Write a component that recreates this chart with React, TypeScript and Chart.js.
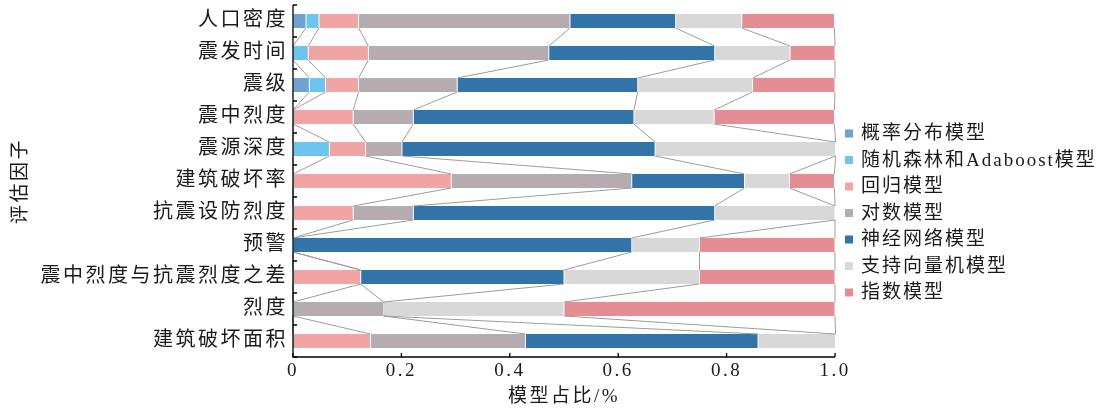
import React, { useEffect, useRef } from 'react';
import { Chart, registerables } from 'chart.js';

Chart.register(...registerables);

// ---- data ----
const categories = [
  '人口密度',
  '震发时间',
  '震级',
  '震中烈度',
  '震源深度',
  '建筑破坏率',
  '抗震设防烈度',
  '预警',
  '震中烈度与抗震烈度之差',
  '烈度',
  '建筑破坏面积',
];

const seriesNames = [
  '概率分布模型',
  '随机森林和Adaboost模型',
  '回归模型',
  '对数模型',
  '神经网络模型',
  '支持向量机模型',
  '指数模型',
];

const probabilityModel = [0.024, 0, 0.030, 0, 0, 0, 0, 0, 0, 0, 0];
const randomForestModel = [0.024, 0.028, 0.030, 0, 0.067, 0, 0, 0, 0, 0, 0];
const regressionModel = [0.073, 0.111, 0.061, 0.111, 0.067, 0.292, 0.111, 0, 0.125, 0, 0.143];
const logModel = [0.390, 0.333, 0.182, 0.111, 0.067, 0.333, 0.111, 0, 0, 0.167, 0.286];
const neuralNetModel = [0.195, 0.306, 0.333, 0.407, 0.467, 0.208, 0.556, 0.625, 0.375, 0, 0.429];
const svmModel = [0.122, 0.139, 0.212, 0.148, 0.333, 0.083, 0.222, 0.125, 0.250, 0.333, 0.143];
const exponentialModel = [0.171, 0.083, 0.152, 0.222, 0, 0.083, 0, 0.250, 0.250, 0.500, 0];

const seriesValues = [
  probabilityModel,
  randomForestModel,
  regressionModel,
  logModel,
  neuralNetModel,
  svmModel,
  exponentialModel,
];

const xTickLabels = ['0', '0.2', '0.4', '0.6', '0.8', '1.0'];
const yTitle = '评估因子';
const xTitle = '模型占比/%';

// ---- styles ----
const seriesColors = ['#6fa2d0', '#6cc5ee', '#f0a5a5', '#b5acb1', '#3274aa', '#d8d8d8', '#e48e93'];
const FONT_FAMILY = '"Liberation Serif", "Noto Sans CJK SC", serif';
const TEXT_COLOR = '#1a1a1a';

const letterSpacingPlugin = {
  id: 'letterSpacing',
  beforeDraw(chart: any) {
    try {
      chart.ctx.letterSpacing = '2.5px';
    } catch (e) {}
  },
};

const connectorPlugin = {
  id: 'connectors',
  afterDatasetsDraw(chart: any) {
    const ctx = chart.ctx;
    ctx.save();
    ctx.strokeStyle = '#9c9c9c';
    ctx.lineWidth = 1;
    chart.data.datasets.forEach((_ds: any, k: number) => {
      const meta = chart.getDatasetMeta(k);
      for (let i = 0; i < meta.data.length - 1; i++) {
        const a = meta.data[i].getProps(['x', 'y', 'height'], true);
        const b = meta.data[i + 1].getProps(['x', 'y', 'height'], true);
        ctx.beginPath();
        ctx.moveTo(a.x, a.y + a.height / 2);
        ctx.lineTo(b.x, b.y - b.height / 2);
        ctx.stroke();
      }
    });
    ctx.restore();
  },
};

const axesPlugin = {
  id: 'axesFrame',
  afterDraw(chart: any) {
    const ctx = chart.ctx;
    const { left, right, top, bottom } = chart.chartArea;
    const xScale = chart.scales.x;
    const tick = 4;
    ctx.save();
    ctx.strokeStyle = '#000';
    ctx.lineWidth = 1.3;
    ctx.beginPath();
    ctx.moveTo(left, top);
    ctx.lineTo(left, bottom);
    ctx.lineTo(right, bottom);
    ctx.stroke();
    // y ticks at category boundaries (inward)
    const n = categories.length;
    const step = (bottom - top) / n;
    ctx.beginPath();
    for (let i = 0; i <= n; i++) {
      const y = top + i * step;
      ctx.moveTo(left, y);
      ctx.lineTo(left + tick, y);
    }
    // x ticks (inward)
    xScale.ticks.forEach((t: any) => {
      const x = xScale.getPixelForValue(t.value);
      ctx.moveTo(x, bottom);
      ctx.lineTo(x, bottom - tick);
    });
    ctx.stroke();
    ctx.restore();
  },
};

const legendPlugin = {
  id: 'customLegend',
  afterDraw(chart: any) {
    const ctx = chart.ctx;
    ctx.save();
    try {
      ctx.letterSpacing = '2px';
    } catch (e) {}
    ctx.font = `19px ${FONT_FAMILY}`;
    ctx.textBaseline = 'middle';
    ctx.textAlign = 'left';
    const x0 = 845;
    const y0 = 133.5;
    const gap = 26.5;
    chart.data.datasets.forEach((ds: any, k: number) => {
      const y = y0 + k * gap;
      ctx.fillStyle = ds.backgroundColor;
      ctx.fillRect(x0, y - 4, 8, 8);
      ctx.fillStyle = TEXT_COLOR;
      ctx.fillText(ds.label, x0 + 16, y + 1);
    });
    ctx.restore();
  },
};

export default function App() {
  const canvasRef = useRef<HTMLCanvasElement | null>(null);

  useEffect(() => {
    if (!canvasRef.current) return;
    const chart = new Chart(canvasRef.current, {
      type: 'bar',
      data: {
        labels: categories,
        datasets: seriesNames.map((name, k) => ({
          label: name,
          data: seriesValues[k],
          backgroundColor: seriesColors[k],
          borderColor: '#ffffff',
          borderWidth: { left: 0.8, right: 0.8, top: 0, bottom: 0 },
          borderSkipped: false,
          barThickness: 14,
        })),
      },
      options: {
        indexAxis: 'y',
        responsive: false,
        devicePixelRatio: 1,
        animation: false,
        layout: { padding: { top: 5, right: 270, bottom: 0, left: 0 } },
        plugins: {
          legend: { display: false },
          tooltip: { enabled: false },
        },
        scales: {
          x: {
            type: 'linear',
            stacked: true,
            min: 0,
            max: 1,
            grid: { display: false, drawTicks: false },
            border: { display: false },
            ticks: {
              stepSize: 0.2,
              padding: 3,
              color: TEXT_COLOR,
              font: { family: FONT_FAMILY, size: 19, lineHeight: 1.2 },
              maxRotation: 0,
              autoSkip: false,
              callback: (_v: any, i: number) => xTickLabels[i],
            },
            title: {
              display: true,
              text: xTitle,
              color: TEXT_COLOR,
              font: { family: FONT_FAMILY, size: 19, lineHeight: 1.2 },
              padding: { top: 0, bottom: 10 },
            },
            afterFit: (scale: any) => {
              scale.height = 61;
              scale.paddingLeft = 0;
              scale.paddingRight = 0;
            },
          },
          y: {
            type: 'category',
            stacked: true,
            grid: { display: false, drawTicks: false },
            border: { display: false },
            ticks: {
              padding: 5,
              color: TEXT_COLOR,
              font: { family: FONT_FAMILY, size: 20, lineHeight: 1.2 },
              autoSkip: false,
            },
            title: {
              display: true,
              text: yTitle,
              color: TEXT_COLOR,
              font: { family: FONT_FAMILY, size: 19, lineHeight: 1.2 },
              padding: { top: 10, bottom: 0 },
            },
            afterFit: (scale: any) => {
              scale.width = 293;
              scale.paddingTop = 0;
              scale.paddingBottom = 0;
            },
          },
        },
      } as any,
      plugins: [letterSpacingPlugin, connectorPlugin, axesPlugin, legendPlugin],
    });
    return () => chart.destroy();
  }, []);

  return (
    <div style={{ position: 'fixed', left: 0, top: 0, width: 1105, height: 418, background: '#fff' }}>
      <canvas ref={canvasRef} width={1105} height={418} style={{ display: 'block' }} />
    </div>
  );
}
